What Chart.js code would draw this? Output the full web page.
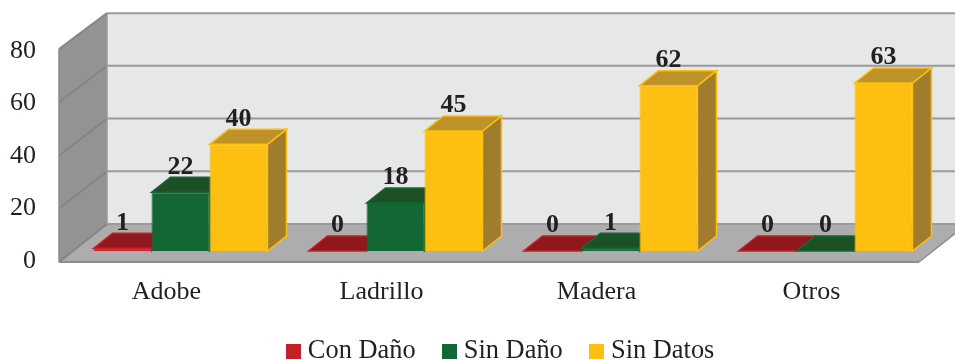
<!DOCTYPE html>
<html>
<head>
<meta charset="utf-8">
<title>Daños por material</title>
<script src="https://cdn.jsdelivr.net/npm/chart.js@4"></script>
<style>
  html, body { margin: 0; padding: 0; background: #fff; }
  canvas { display: block; }
</style>
</head>
<body>
<canvas id="grafico" width="955" height="360"></canvas>
<script>
// DATOS
const categorias = ["Adobe", "Ladrillo", "Madera", "Otros"];
const conDano = [1, 0, 0, 0];
const sinDano = [22, 18, 1, 0];
const sinDatos = [40, 45, 62, 63];
const yTicks = [0, 20, 40, 60, 80];

// COLORES: frente, tapa, costado
const colores = [
  ["#c4202a", "#90181c", "#90181c"],
  ["#136735", "#1d5024", "#1d5024"],
  ["#fdc010", "#bd9229", "#a17c2c"]
];
const fuente = '"Liberation Serif", serif';

const poligono = (ctx, puntos, relleno, borde, ancho) => {
  ctx.beginPath();
  puntos.forEach((p, i) => (i ? ctx.lineTo(p[0], p[1]) : ctx.moveTo(p[0], p[1])));
  ctx.closePath();
  ctx.fillStyle = relleno;
  ctx.fill();
  if (borde) {
    ctx.strokeStyle = borde;
    ctx.lineWidth = ancho;
    ctx.stroke();
  }
};

const linea = (ctx, x1, y1, x2, y2, color, ancho) => {
  ctx.beginPath();
  ctx.moveTo(x1, y1);
  ctx.lineTo(x2, y2);
  ctx.strokeStyle = color;
  ctx.lineWidth = ancho;
  ctx.stroke();
};

// PAREDES Y PISO
const paredes = {
  id: "paredes",
  beforeDatasetsDraw: (chart) => {
    const ctx = chart.ctx;
    const area = chart.chartArea;
    const pared = chart.scales.pared;
    const izq = area.left - 14, der = area.right - 14;
    const fondoX = 48, fondoY = -38;
    const fondo = (v) => pared.bottom + fondoY - (pared.bottom - pared.getPixelForValue(v)) * 0.99;
    ctx.save();
    // fondo
    poligono(ctx, [[izq + fondoX, fondo(80)], [der + fondoX, fondo(80)], [der + fondoX, fondo(0)], [izq + fondoX, fondo(0)]], "#e6e7e7");
    // pared izquierda
    poligono(ctx, [[izq, pared.top], [izq + fondoX, fondo(80)], [izq + fondoX, fondo(0)], [izq, pared.bottom]], "#939393");
    // piso
    poligono(ctx, [[izq, pared.bottom], [izq + fondoX, fondo(0)], [der + fondoX, fondo(0)], [der, pared.bottom]], "#adadad");
    yTicks.forEach((v) => {
      linea(ctx, izq + fondoX, fondo(v), der + fondoX, fondo(v), "#9a9a9a", 2);
      linea(ctx, izq, pared.getPixelForValue(v), izq + fondoX, fondo(v), "#858585", 2);
    });
    linea(ctx, izq + fondoX, fondo(80), izq + fondoX, fondo(0), "#9a9a9a", 1.5);
    linea(ctx, izq, pared.top, izq, pared.bottom, "#8a8a8a", 1.5);
    linea(ctx, izq, pared.bottom, der, pared.bottom, "#8c8c8c", 2);
    linea(ctx, der, pared.bottom, der + fondoX, fondo(0), "#8c8c8c", 1.5);

    // tapas y costados de las barras
    const dx = 19, dy = -15;
    chart.data.datasets.forEach((ds, i) => {
      chart.getDatasetMeta(i).data.forEach((el) => {
        const x1 = el.x - el.width / 2, x2 = el.x + el.width / 2;
        const c = colores[i];
        poligono(ctx, [[x2, el.y], [x2 + dx, el.y + dy], [x2 + dx, el.base + dy], [x2, el.base]], c[2], c[0], 1.5);
        poligono(ctx, [[x1, el.y], [x1 + dx, el.y + dy], [x2 + dx, el.y + dy], [x2, el.y]], c[1], c[0], 1.5);
      });
    });
    ctx.restore();
  }
};

// ETIQUETAS DE VALOR
const etiquetas = {
  id: "etiquetas",
  afterDatasetsDraw: (chart) => {
    const ctx = chart.ctx;
    ctx.save();
    ctx.font = "bold 26px " + fuente;
    ctx.fillStyle = "#231f20";
    ctx.textAlign = "center";
    ctx.textBaseline = "middle";
    chart.data.datasets.forEach((ds, i) => {
      chart.getDatasetMeta(i).data.forEach((el, j) => {
        ctx.fillText(ds.data[j], el.x, el.y - 25.5);
      });
    });
    ctx.restore();
  }
};

// la leyenda no va centrada en el lienzo
const correrLeyenda = {
  id: "correrLeyenda",
  afterUpdate: (chart) => {
    chart.legend.left += 37;
    chart.legend.right += 37;
  }
};

// MUESTRAS DE LA LEYENDA
const muestra = (color) => {
  const c = document.createElement("canvas");
  c.width = 15;
  c.height = 15;
  const g = c.getContext("2d");
  g.fillStyle = color;
  g.fillRect(0, 0, 15, 15);
  return c;
};

const serie = (label, data, i) => ({
  label,
  data,
  yAxisID: "barras",
  backgroundColor: colores[i][0],
  borderColor: colores[i][0],
  borderWidth: 1,
  categoryPercentage: 0.809,
  barPercentage: 1
});

new Chart(document.getElementById("grafico"), {
  type: "bar",
  data: {
    labels: categorias,
    datasets: [
      serie("Con Daño", conDano, 0),
      serie("Sin Daño", sinDano, 1),
      serie("Sin Datos", sinDatos, 2)
    ]
  },
  options: {
    responsive: false,
    animation: false,
    layout: { padding: { top: 49, left: 0, right: 22, bottom: 0 } },
    clip: false,
    scales: {
      x: {
        grid: { display: false },
        border: { display: false },
        ticks: {
          color: "#231f20",
          font: { family: fuente, size: 26 },
          padding: 7,
          labelOffset: -14,
          maxRotation: 0
        },
        afterFit: (s) => { s.height = 43; }
      },
      y: {
        min: -0.38,
        max: 80.76,
        grid: { display: false },
        border: { display: false },
        afterBuildTicks: (s) => { s.ticks = yTicks.map((v) => ({ value: v })); },
        ticks: {
          color: "#231f20",
          font: { family: fuente, size: 26 },
          padding: 29
        },
        afterFit: (s) => { s.width = 73; }
      },
      // escala del frente de la pared
      pared: { axis: "y", display: false, min: 0, max: 80 },
      // escala de las barras, su cero va sobre el piso
      barras: { axis: "y", display: false, min: -4.125, max: 75.75 }
    },
    plugins: {
      tooltip: { enabled: false },
      legend: {
        position: "bottom",
        maxHeight: 55,
        labels: {
          usePointStyle: true,
          pointStyleWidth: 2,
          padding: 33,
          color: "#231f20",
          font: { family: fuente, size: 26.4 },
          generateLabels: (chart) => chart.data.datasets.map((ds, i) => ({
            text: ds.label,
            datasetIndex: i,
            fontColor: "#231f20",
            pointStyle: muestra(colores[i][0])
          }))
        }
      }
    }
  },
  plugins: [paredes, etiquetas, correrLeyenda]
});
</script>
</body>
</html>
